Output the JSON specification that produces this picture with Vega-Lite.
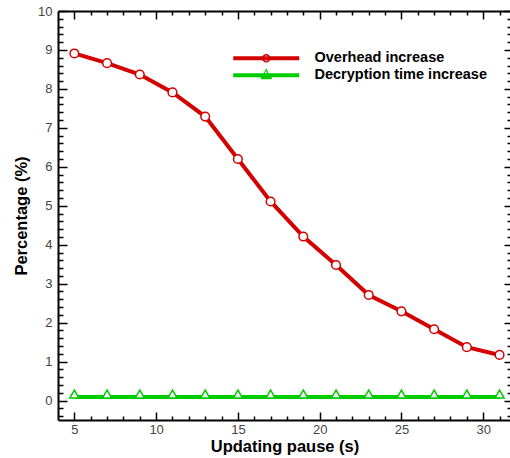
{
  "$schema": "https://vega.github.io/schema/vega-lite/v6.json",
  "width": 453,
  "height": 409,
  "autosize": {"type": "none"},
  "padding": {"left": 58, "top": 11, "right": 0, "bottom": 38},
  "background": "white",
  "config": {
    "view": {"stroke": null},
    "font": "Liberation Sans"
  },
  "data": {
    "values": [
      {"x": 5, "y": 8.91, "series": "Overhead increase"},
      {"x": 7, "y": 8.66, "series": "Overhead increase"},
      {"x": 9, "y": 8.37, "series": "Overhead increase"},
      {"x": 11, "y": 7.91, "series": "Overhead increase"},
      {"x": 13, "y": 7.29, "series": "Overhead increase"},
      {"x": 15, "y": 6.2, "series": "Overhead increase"},
      {"x": 17, "y": 5.11, "series": "Overhead increase"},
      {"x": 19, "y": 4.21, "series": "Overhead increase"},
      {"x": 21, "y": 3.48, "series": "Overhead increase"},
      {"x": 23, "y": 2.71, "series": "Overhead increase"},
      {"x": 25, "y": 2.29, "series": "Overhead increase"},
      {"x": 27, "y": 1.83, "series": "Overhead increase"},
      {"x": 29, "y": 1.37, "series": "Overhead increase"},
      {"x": 31, "y": 1.17, "series": "Overhead increase"},
      {"x": 5, "y": 0.09, "series": "Decryption time increase"},
      {"x": 7, "y": 0.09, "series": "Decryption time increase"},
      {"x": 9, "y": 0.09, "series": "Decryption time increase"},
      {"x": 11, "y": 0.09, "series": "Decryption time increase"},
      {"x": 13, "y": 0.09, "series": "Decryption time increase"},
      {"x": 15, "y": 0.09, "series": "Decryption time increase"},
      {"x": 17, "y": 0.09, "series": "Decryption time increase"},
      {"x": 19, "y": 0.09, "series": "Decryption time increase"},
      {"x": 21, "y": 0.09, "series": "Decryption time increase"},
      {"x": 23, "y": 0.09, "series": "Decryption time increase"},
      {"x": 25, "y": 0.09, "series": "Decryption time increase"},
      {"x": 27, "y": 0.09, "series": "Decryption time increase"},
      {"x": 29, "y": 0.09, "series": "Decryption time increase"},
      {"x": 31, "y": 0.09, "series": "Decryption time increase"}
    ]
  },
  "layer": [
    {
      "mark": {"type": "line", "strokeWidth": 4},
      "encoding": {
        "x": {
          "field": "x", "type": "quantitative",
          "scale": {"domain": [4, 31.7], "nice": false, "zero": false},
          "axis": {
            "orient": "bottom",
            "values": [5,10,15,20,25,30],
            "labelOverlap": false,
            "labelFlush": false,
            "grid": false,
            "ticks": false,
            "domainColor": "black", "domainWidth": 2,
            "labelPadding": 3,
            "labelFont": "Liberation Sans", "labelFontSize": 13, "labelColor": "#444444",
            "title": "Updating pause (s)",
            "titleFont": "Liberation Sans", "titleFontSize": 16.5, "titleFontWeight": "bold", "titleColor": "black",
            "titlePadding": 2
          }
        },
        "y": {
          "field": "y", "type": "quantitative",
          "scale": {"domain": [-0.5, 10], "nice": false, "zero": false},
          "axis": {
            "orient": "left",
            "values": [0,1,2,3,4,5,6,7,8,9,10],
            "labelOverlap": false,
            "labelFlush": false,
            "grid": false,
            "ticks": false,
            "domainColor": "black", "domainWidth": 2,
            "labelPadding": 6,
            "labelFont": "Liberation Sans", "labelFontSize": 13, "labelColor": "#444444",
            "title": "Percentage (%)",
            "titleFont": "Liberation Sans", "titleFontSize": 16.5, "titleFontWeight": "bold", "titleColor": "black",
            "titlePadding": 8
          }
        },
        "color": {
          "field": "series", "type": "nominal",
          "scale": {"domain": ["Overhead increase", "Decryption time increase"], "range": ["#d40000", "#00cc00"]},
          "legend": {
            "orient": "none",
            "legendX": 201,
            "legendY": 40,
            "title": null,
            "padding": 0,
            "rowPadding": 2,
            "labelLimit": 400,
            "labelFont": "Liberation Sans", "labelFontSize": 14.5, "labelFontWeight": "bold", "labelColor": "black",
            "labelOffset": 41,
            "symbolStrokeWidth": 0,
            "symbolSize": 100,
            "encode": {
              "symbols": {
                "update": {
                  "shape": {"signal": "datum.value === 'Overhead increase' ? 'M-6.6,-0.4H6.6V0.4H-6.6Z M-0.85,0A0.85,0.85,0,1,1,0.85,0A0.85,0.85,0,1,1,-0.85,0Z M-0.55,0A0.55,0.55,0,1,0,0.55,0A0.55,0.55,0,1,0,-0.55,0Z' : 'M-6.6,-0.4H6.6V0.4H-6.6Z M0,-1.4L1,0.6L-1,0.6Z M0,-0.9L-0.6,0.3L0.6,0.3Z M-1.1,0.3H1.1V0.8H-1.1Z'"},
                  "fill": {"signal": "datum.value === 'Overhead increase' ? '#d40000' : '#00cc00'"},
                  "strokeWidth": {"value": 0},
                  "opacity": {"value": 1}
                }
              }
            }
          }
        }
      }
    },
    {
      "transform": [{"filter": "datum.series === 'Overhead increase'"}],
      "mark": {"type": "point", "shape": "circle", "filled": true, "fill": "white", "stroke": "#d40000", "strokeWidth": 1.5, "size": 75, "opacity": 1},
      "encoding": {
        "x": {
          "field": "x", "type": "quantitative",
          "scale": {"domain": [4, 31.7], "nice": false, "zero": false},
          "axis": {
            "orient": "top", "offset": -409,
            "values": [5,6,7,8,9,10,11,12,13,14,15,16,17,18,19,20,21,22,23,24,25,26,27,28,29,30,31],
            "labels": false, "title": null, "grid": false, "domain": false,
            "tickColor": "black", "tickWidth": 1.5,
            "tickSize": {"condition": {"test": "datum.value % 5 === 0", "value": 8}, "value": 4}
          }
        },
        "y": {
          "field": "y", "type": "quantitative",
          "scale": {"domain": [-0.5, 10], "nice": false, "zero": false},
          "axis": {
            "orient": "right", "offset": -453,
            "values": [-0.4,-0.2,0,0.2,0.4,0.6,0.8,1,1.2,1.4,1.6,1.8,2,2.2,2.4,2.6,2.8,3,3.2,3.4,3.6,3.8,4,4.2,4.4,4.6,4.8,5,5.2,5.4,5.6,5.8,6,6.2,6.4,6.6,6.8,7,7.2,7.4,7.6,7.8,8,8.2,8.4,8.6,8.8,9,9.2,9.4,9.6,9.8,10],
            "labels": false, "title": null, "grid": false, "domain": false,
            "tickColor": "black", "tickWidth": 1.5,
            "tickSize": {"condition": {"test": "abs(datum.value - round(datum.value)) < 0.001", "value": 9}, "value": 5}
          }
        }
      }
    },
    {
      "transform": [{"filter": "datum.series === 'Decryption time increase'"}],
      "mark": {"type": "point", "shape": "triangle-up", "filled": true, "fill": "white", "stroke": "#00cc00", "strokeWidth": 1.5, "size": 85, "opacity": 1, "yOffset": -3},
      "encoding": {
        "x": {
          "field": "x", "type": "quantitative",
          "scale": {"domain": [4, 31.7], "nice": false, "zero": false},
          "axis": {
            "orient": "bottom", "offset": -409,
            "values": [5,6,7,8,9,10,11,12,13,14,15,16,17,18,19,20,21,22,23,24,25,26,27,28,29,30,31],
            "labels": false, "title": null, "grid": false, "domain": false,
            "tickColor": "black", "tickWidth": 1.5,
            "tickSize": {"condition": {"test": "datum.value % 5 === 0", "value": 8}, "value": 4}
          }
        },
        "y": {
          "field": "y", "type": "quantitative",
          "scale": {"domain": [-0.5, 10], "nice": false, "zero": false},
          "axis": {
            "orient": "left", "offset": -453,
            "values": [-0.4,-0.2,0,0.2,0.4,0.6,0.8,1,1.2,1.4,1.6,1.8,2,2.2,2.4,2.6,2.8,3,3.2,3.4,3.6,3.8,4,4.2,4.4,4.6,4.8,5,5.2,5.4,5.6,5.8,6,6.2,6.4,6.6,6.8,7,7.2,7.4,7.6,7.8,8,8.2,8.4,8.6,8.8,9,9.2,9.4,9.6,9.8,10],
            "labels": false, "title": null, "grid": false, "domain": false,
            "tickColor": "black", "tickWidth": 1.5,
            "tickSize": {"condition": {"test": "abs(datum.value - round(datum.value)) < 0.001", "value": 7}, "value": 4}
          }
        }
      }
    },
    {
      "mark": {"type": "point", "opacity": 0},
      "encoding": {
        "x": {
          "field": "x", "type": "quantitative",
          "scale": {"domain": [4, 31.7], "nice": false, "zero": false},
          "axis": {
            "orient": "top", "values": [], "ticks": false,
            "labels": false, "title": null, "grid": false,
            "domainColor": "black", "domainWidth": 2
          }
        },
        "y": {
          "field": "y", "type": "quantitative",
          "scale": {"domain": [-0.5, 10], "nice": false, "zero": false},
          "axis": {
            "orient": "right", "values": [], "ticks": false,
            "labels": false, "title": null, "grid": false,
            "domainColor": "black", "domainWidth": 2
          }
        }
      }
    }
  ],
  "resolve": {"scale": {"x": "independent", "y": "independent"}}
}
